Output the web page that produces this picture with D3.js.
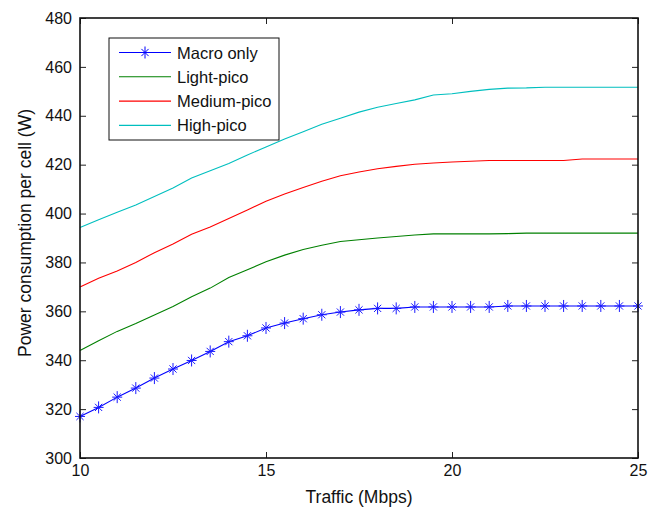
<!DOCTYPE html>
<html>
<head>
<meta charset="utf-8">
<script src="https://cdn.jsdelivr.net/npm/d3@7"></script>
<style>
  body { margin: 0; background: #fff; }
  text { font-family: "Liberation Sans", Arial, sans-serif; fill: #111; }
</style>
</head>
<body>
<script>
const w = 662;
const h = 509;
const margin = { top: 18, right: 24, bottom: 51, left: 80 };

// traffic in Mbps, one sample every 0.5
const traffic = d3.range(31).map(i => 10 + i * 0.5);

const macroOnly = [317.0, 320.7, 324.9, 328.6, 332.7, 336.4, 339.9, 343.6, 347.6, 350.0,
  353.2, 355.2, 357.0, 358.6, 359.7, 360.6, 361.2, 361.2, 361.8, 361.8,
  361.8, 361.8, 361.8, 362.2, 362.2, 362.2, 362.2, 362.2, 362.2, 362.2, 362.2];
const lightPico = [344.0, 348.0, 351.8, 355.0, 358.5, 362.0, 366.0, 369.5, 373.8, 377.0,
  380.3, 383.0, 385.3, 387.0, 388.6, 389.3, 390.0, 390.6, 391.2, 391.7,
  391.7, 391.7, 391.7, 391.8, 392.0, 392.0, 392.0, 392.0, 392.0, 392.0, 392.0];
const mediumPico = [370.0, 373.5, 376.5, 380.0, 384.0, 387.5, 391.5, 394.5, 398.0, 401.5,
  405.0, 408.0, 410.7, 413.2, 415.5, 417.0, 418.3, 419.3, 420.2, 420.7,
  421.1, 421.4, 421.7, 421.7, 421.7, 421.7, 421.7, 422.3, 422.3, 422.3, 422.3];
const highPico = [394.3, 397.5, 400.5, 403.5, 407.0, 410.5, 414.5, 417.5, 420.5, 424.0,
  427.2, 430.5, 433.5, 436.5, 439.0, 441.5, 443.5, 445.0, 446.5, 448.5,
  449.0, 450.0, 450.8, 451.3, 451.4, 451.7, 451.7, 451.7, 451.7, 451.7, 451.7];

const xTicks = [10, 15, 20, 25];
const yTicks = [300, 320, 340, 360, 380, 400, 420, 440, 460, 480];

const series = [
  { name: "Macro only", values: macroOnly, color: "#0000ff", marker: true },
  { name: "Light-pico", values: lightPico, color: "#008000" },
  { name: "Medium-pico", values: mediumPico, color: "#ff0000" },
  { name: "High-pico", values: highPico, color: "#00bfbf" }
];

const xScale = d3.scaleLinear()
  .domain([10, 25])
  .range([margin.left, w - margin.right]);

const yScale = d3.scaleLinear()
  .domain([300, 480])
  .range([h - margin.bottom, margin.top]);

const svg = d3.select("body")
  .append("svg")
  .attr("width", w)
  .attr("height", h);

// LINES
const line = d3.line()
  .x((d, i) => xScale(traffic[i]))
  .y(d => yScale(d));

series.forEach(s => {
  svg.append("path")
    .datum(s.values)
    .attr("fill", "none")
    .attr("stroke", s.color)
    .attr("stroke-width", 1.1)
    .attr("d", line);
});

// asterisk marker
function star(g, color) {
  g.append("line").attr("x1", 0).attr("y1", -6).attr("x2", 0).attr("y2", 6);
  g.append("line").attr("x1", -5).attr("y1", 0).attr("x2", 5).attr("y2", 0);
  g.append("line").attr("x1", -3.6).attr("y1", -3.6).attr("x2", 3.6).attr("y2", 3.6);
  g.append("line").attr("x1", -3.6).attr("y1", 3.6).attr("x2", 3.6).attr("y2", -3.6);
  g.selectAll("line").attr("stroke", color).attr("stroke-width", 1);
}

svg.append("g")
  .selectAll("g")
  .data(macroOnly)
  .join("g")
  .attr("transform", (d, i) => `translate(${xScale(traffic[i])}, ${yScale(d)})`)
  .each(function() { star(d3.select(this), "#1a1aff"); });

// AXES (ticks inside, box on all sides)
const tickLen = 6;
const axisStyle = g => {
  g.selectAll(".domain").remove();
  g.selectAll(".tick line").attr("stroke", "#222").attr("stroke-width", 1);
  g.selectAll("text").attr("font-size", 16).attr("fill", "#111")
    .attr("font-family", "Liberation Sans, Arial, sans-serif");
};

svg.append("g")
  .attr("transform", `translate(0, ${h - margin.bottom})`)
  .call(d3.axisBottom(xScale).tickValues(xTicks).tickSizeInner(-tickLen).tickSizeOuter(0).tickPadding(7))
  .call(axisStyle);

svg.append("g")
  .attr("transform", `translate(0, ${margin.top})`)
  .call(d3.axisTop(xScale).tickValues(xTicks).tickSizeInner(-tickLen).tickSizeOuter(0).tickFormat(""))
  .call(axisStyle);

svg.append("g")
  .attr("transform", `translate(${margin.left}, 0)`)
  .call(d3.axisLeft(yScale).tickValues(yTicks).tickSizeInner(-tickLen).tickSizeOuter(0).tickPadding(8))
  .call(axisStyle);

svg.append("g")
  .attr("transform", `translate(${w - margin.right}, 0)`)
  .call(d3.axisRight(yScale).tickValues(yTicks).tickSizeInner(-tickLen).tickSizeOuter(0).tickFormat(""))
  .call(axisStyle);

svg.append("rect")
  .attr("x", margin.left)
  .attr("y", margin.top)
  .attr("width", w - margin.left - margin.right)
  .attr("height", h - margin.top - margin.bottom)
  .attr("fill", "none")
  .attr("stroke", "#111")
  .attr("stroke-width", 1.6);

// AXIS LABELS
svg.append("text")
  .attr("x", (margin.left + w - margin.right) / 2)
  .attr("y", 503)
  .attr("text-anchor", "middle")
  .attr("font-size", 17.5)
  .text("Traffic (Mbps)");

svg.append("text")
  .attr("transform", `translate(31, 233) rotate(-90)`)
  .attr("text-anchor", "middle")
  .attr("font-size", 17.5)
  .text("Power consumption per cell (W)");

// LEGEND
const legend = svg.append("g").attr("transform", "translate(109, 38)");
legend.append("rect")
  .attr("width", 170)
  .attr("height", 102)
  .attr("fill", "#fff")
  .attr("stroke", "#111")
  .attr("stroke-width", 1);

series.forEach((s, i) => {
  const y = 14.5 + i * 24.3;
  legend.append("line")
    .attr("x1", 10).attr("x2", 62)
    .attr("y1", y).attr("y2", y)
    .attr("stroke", s.color)
    .attr("stroke-width", 1.1);
  if (s.marker) {
    star(legend.append("g").attr("transform", `translate(36, ${y})`), s.color);
  }
  legend.append("text")
    .attr("x", 68)
    .attr("y", y + 6)
    .attr("font-size", 16.5)
    .text(s.name);
});
</script>
</body>
</html>
